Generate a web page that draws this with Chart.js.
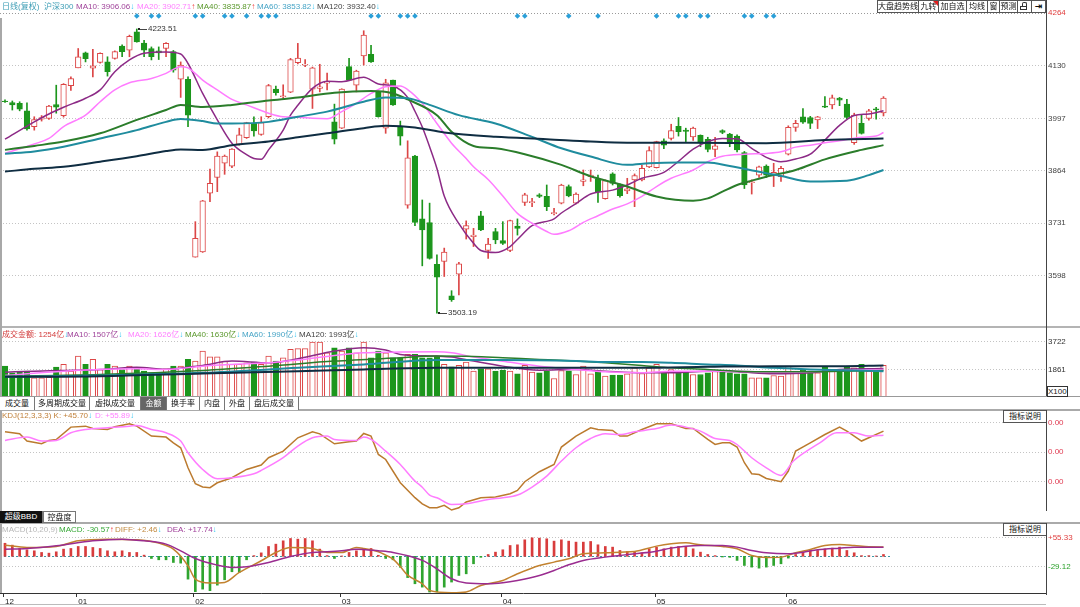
<!DOCTYPE html>
<html lang="zh-CN">
<head>
<meta charset="utf-8">
<title>沪深300 日线</title>
<script src="https://cdn.jsdelivr.net/npm/chart.js@4.4.1/dist/chart.umd.min.js"></script>
<style>
html,body{margin:0;padding:0;background:#fff;}
#root{position:relative;width:1080px;height:607px;overflow:hidden;background:#fff;font-family:"Liberation Sans",Arial,"Noto Sans CJK SC",sans-serif;}
canvas{position:absolute;left:0;}
.t{position:absolute;font-size:8px;line-height:10px;white-space:nowrap;}
.dn{color:#2ec4f2;}
.up{color:#f03a3a;}
.ln{position:absolute;}
.tab{position:absolute;height:13px;line-height:13px;font-size:8px;text-align:center;border-right:1px solid #777;box-sizing:border-box;color:#111;background:#fff;white-space:nowrap;}
.sel{background:#666;color:#fff;}
.sel2{background:#111;color:#fff;}
.btn{position:absolute;top:0;height:13px;line-height:11px;font-size:8px;text-align:center;border:1px solid #555;box-sizing:border-box;background:#fff;color:#111;white-space:nowrap;}
.zb{position:absolute;left:1003px;width:43px;height:13px;line-height:11px;font-size:8px;text-align:center;border:1px solid #555;border-right:none;box-sizing:border-box;background:#fff;color:#111;}
</style>
</head>
<body>
<div id="root">
  <canvas id="cPrice" width="1080" height="327" style="top:0"></canvas>
  <canvas id="cVol" width="1080" height="69" style="top:328px"></canvas>
  <canvas id="cKdj" width="1080" height="101" style="top:410px"></canvas>
  <canvas id="cMacd" width="1080" height="84" style="top:523px"></canvas>

  <!-- separators -->
  <div class="ln" style="left:0;top:326px;width:1080px;height:2px;background:#b4b4b4"></div>
  <div class="ln" style="left:0;top:396px;width:1080px;height:1px;background:#999"></div>
  <div class="ln" style="left:0;top:409px;width:1080px;height:2px;background:#aaa"></div>
  <div class="ln" style="left:0;top:522px;width:1080px;height:2px;background:#aaa"></div>
  <div class="ln" style="left:0;top:604px;width:1046px;height:1px;background:#bbb"></div>
  <div class="ln" style="left:0;top:18px;width:2px;height:575px;background:#a8a8a8"></div>
  <div class="ln" style="left:1046px;top:0;width:1px;height:396px;background:#444"></div>
  <div class="ln" style="left:1046px;top:410px;width:1px;height:101px;background:#444"></div>
  <div class="ln" style="left:1046px;top:523px;width:1px;height:72px;background:#444"></div>

  <!-- price header -->
  <div class="t" style="left:2px;top:2px;color:#3d9db5">日线(复权)</div>
  <div class="t" style="left:44px;top:2px;color:#3d9db5">沪深300</div>
  <div class="t" style="left:76px;top:2px"><span style="color:#a0449a">MA10: 3906.06</span><span class="dn">↓</span></div>
  <div class="t" style="left:137px;top:2px"><span style="color:#ff80ff">MA20: 3902.71</span><span class="up">↑</span></div>
  <div class="t" style="left:197px;top:2px"><span style="color:#5a982c">MA40: 3835.87</span><span class="up">↑</span></div>
  <div class="t" style="left:257px;top:2px"><span style="color:#46a4c6">MA60: 3853.82</span><span class="dn">↓</span></div>
  <div class="t" style="left:317px;top:2px"><span style="color:#444">MA120: 3932.40</span><span class="dn">↓</span></div>

  <!-- top right buttons -->
  <div class="btn" style="left:877px;width:42px">大盘趋势线</div>
  <div class="btn" style="left:918px;width:21px">九转</div>
  <div class="ln" style="left:933px;top:1px;width:0;height:0;border-top:5px solid #e02020;border-left:5px solid transparent"></div>
  <div class="btn" style="left:938px;width:29px">加自选</div>
  <div class="btn" style="left:966px;width:22px">均线</div>
  <div class="btn" style="left:987px;width:13px">窗</div>
  <div class="btn" style="left:999px;width:19px">预测</div>
  <div class="btn" style="left:1017px;width:15px">
    <div style="position:absolute;left:4px;top:1px;width:3px;height:3px;border:1px solid #333;border-bottom:none;border-radius:2px 2px 0 0"></div>
    <div style="position:absolute;left:2px;top:5px;width:7px;height:4px;border:1px solid #333;box-sizing:border-box"></div>
  </div>
  <div class="btn" style="left:1031px;width:15px;font-family:'DejaVu Sans';font-weight:bold;font-size:9px">⇥</div>

  <!-- volume header -->
  <div class="t" style="left:2px;top:330px"><span style="color:#d23c3c">成交金额: 1254亿</span><span class="dn">↓</span></div>
  <div class="t" style="left:67px;top:330px"><span style="color:#a0449a">MA10: 1507亿</span><span class="dn">↓</span></div>
  <div class="t" style="left:128px;top:330px"><span style="color:#ff80ff">MA20: 1626亿</span><span class="dn">↓</span></div>
  <div class="t" style="left:185px;top:330px"><span style="color:#5a982c">MA40: 1630亿</span><span class="dn">↓</span></div>
  <div class="t" style="left:242px;top:330px"><span style="color:#46a4c6">MA60: 1990亿</span><span class="dn">↓</span></div>
  <div class="t" style="left:299px;top:330px"><span style="color:#444">MA120: 1993亿</span><span class="dn">↓</span></div>
  <div style="position:absolute;left:1047px;top:386px;width:19px;height:9px;border:1px solid #333;font-size:8px;line-height:9px;color:#222;background:#fff">X100</div>

  <!-- volume tabs -->
  <div class="tab" style="left:0;top:397px;width:35px">成交量</div>
  <div class="tab" style="left:35px;top:397px;width:55px">多周期成交量</div>
  <div class="tab" style="left:90px;top:397px;width:51px">虚拟成交量</div>
  <div class="tab sel" style="left:141px;top:397px;width:26px">金额</div>
  <div class="tab" style="left:167px;top:397px;width:33px">换手率</div>
  <div class="tab" style="left:200px;top:397px;width:25px">内盘</div>
  <div class="tab" style="left:225px;top:397px;width:25px">外盘</div>
  <div class="tab" style="left:250px;top:397px;width:49px">盘后成交量</div>

  <!-- KDJ header -->
  <div class="t" style="left:2px;top:411px"><span style="color:#c0803a">KDJ(12,3,3,3) K: +45.70</span><span class="dn">↓</span></div>
  <div class="t" style="left:95px;top:411px"><span style="color:#ff80ff">D: +55.89</span><span class="dn">↓</span></div>
  <div class="zb" style="top:410px">指标说明</div>

  <!-- MACD tabs & header -->
  <div class="tab sel2" style="left:0;top:511px;width:43px;height:12px;line-height:12px">超级BBD</div>
  <div class="tab" style="left:43px;top:511px;width:33px;height:12px;line-height:12px;border:1px solid #777">控盘度</div>
  <div class="t" style="left:2px;top:525px"><span style="color:#b8b8b8">MACD(10,20,9)</span></div>
  <div class="t" style="left:59px;top:525px"><span style="color:#36a836">MACD: -30.57</span><span class="up">↑</span></div>
  <div class="t" style="left:115px;top:525px"><span style="color:#c08a40">DIFF: +2.46</span><span class="dn">↓</span></div>
  <div class="t" style="left:167px;top:525px"><span style="color:#a0409a">DEA: +17.74</span><span class="dn">↓</span></div>
  <div class="zb" style="top:523px">指标说明</div>
</div>

<script>
// ---------------- data ----------------
const DATES = ['12/18','12/19','12/20','12/23','12/24','12/25','12/26','12/27','12/30','12/31',
'01/02','01/03','01/06','01/07','01/08','01/09','01/10','01/13','01/14','01/15','01/16','01/17','01/20','01/21','01/22','01/23',
'02/03','02/04','02/05','02/06','02/07','02/10','02/11','02/12','02/13','02/14','02/17','02/18','02/19','02/20','02/21','02/24','02/25','02/26','02/27','02/28',
'03/02','03/03','03/04','03/05','03/06','03/09','03/10','03/11','03/12','03/13','03/16','03/17','03/18','03/19','03/20','03/23','03/24','03/25','03/26','03/27','03/30','03/31',
'04/01','04/02','04/03','04/07','04/08','04/09','04/10','04/13','04/14','04/15','04/16','04/17','04/20','04/21','04/22','04/23','04/24','04/27','04/28','04/29','04/30',
'05/06','05/07','05/08','05/11','05/12','05/13','05/14','05/15','05/18','05/19','05/20','05/21','05/22','05/25','05/26','05/27','05/28','05/29',
'06/01','06/02','06/03','06/04','06/05','06/08','06/09','06/10','06/11','06/12','06/15','06/16','06/17','06/18'];

const OPEN = [4041,4037,4035,4016,3976,3995,3997,4032,4004,4080,
4125,4163,4124,4139,4140,4149,4180,4170,4216,4188,
4174,4168,4174,4166,4096,4096,3645,3658,3807,3847,
3883,3876,3931,3948,3984,3956,4001,4071,4052,4063,
4138,4132,4071,4073,4086,3988,3972,4128,4081,4155,
4159,4064,3972,4094,3976,3777,3901,3742,3733,3627,
3634,3547,3602,3716,3697,3750,3662,3710,3687,3662,
3724,3784,3783,3803,3799,3755,3782,3824,3782,3837,
3849,3843,3793,3856,3830,3813,3841,3841,3874,3872,
3940,3946,3977,3967,3950,3954,3944,3918,3966,3957,
3952,3910,3834,3853,3876,3854,3849,3906,3974,4001,
3999,3993,4028,4031,4048,4033,3935,3984,3997,4021,
4011];
const HIGH = [4044,4041,4039,4036,4001,4004,4030,4081,4085,4102,
4174,4165,4172,4163,4153,4168,4183,4208,4223.51,4195,
4178,4178,4189,4169,4140,4102,3735,3789,3868,3912,
3904,3920,3972,3987,4001,4001,4083,4079,4082,4149,
4187,4146,4127,4134,4112,4033,4072,4149,4119,4219,
4182,4066,4096,4094,3990,3940,3903,3790,3782,3651,
3668,3560,3632,3737,3718,3761,3693,3718,3735,3739,
3742,3807,3794,3806,3828,3769,3830,3828,3808,3866,
3866,3853,3841,3859,3831,3845,3856,3878,3925,3939,
3945,3982,3999,3972,3975,3955,3949,3949,3968,3959,
3955,3913,3841,3876,3879,3883,3875,3978,3992,4022,
4002,4002,4052,4056,4050,4045,4010,4005,4020,4025,
4052];
const LOW = [4037,4018,4016,3967,3967,3990,3994,4010,4000,4068,
4125,4140,4102,4137,4104,4147,4153,4153,4190,4153,
4145,4146,4153,4114,4050,3976,3645,3657,3786,3811,
3855,3872,3929,3946,3952,3954,3998,4056,4048,4062,
4135,4128,4022,4064,4069,3932,3971,4093,4064,4132,
4139,4000,3959,4030,3929,3769,3725,3623,3640,3503.19,
3596,3533,3549,3691,3672,3712,3642,3679,3677,3659,
3701,3776,3773,3796,3763,3752,3780,3798,3780,3826,
3837,3784,3792,3828,3797,3806,3773,3838,3872,3871,
3920,3942,3952,3938,3941,3925,3912,3900,3958,3925,
3912,3819,3805,3847,3847,3824,3837,3904,3964,3984,
3971,3971,4024,4021,4029,3996,3931,3957,3992,3995,
4003];
const CLOSE = [4039,4031,4020,3970,3994,3999,4028,4025,4083,4098,
4153,4148,4130,4162,4115,4166,4166,4205,4191,4170,
4153,4163,4187,4119,4132,4005,3693,3788,3832,3901,
3901,3919,3955,3986,3965,3986,4080,4062,4054,4146,
4150,4134,4125,4077,4090,3944,4071,4094,4117,4208,
4140,4001,4087,4031,3952,3897,3733,3714,3642,3594,
3658,3537,3628,3725,3701,3714,3678,3689,3680,3738,
3718,3803,3786,3799,3773,3758,3828,3800,3805,3841,
3853,3811,3839,3832,3801,3818,3852,3870,3915,3938,
3929,3966,3963,3964,3972,3938,3918,3927,3961,3938,
3917,3828,3836,3874,3853,3860,3870,3974,3984,3987,
3984,4001,4025,4049,4043,3999,4005,3959,4016,4018,
4048];

// price moving averages: [dayIndex, value]
const MA10 = [[0,3944],[4,3988],[6,4008],[8,4025],[11,4048],[13,4069],[15,4115],[17,4145],[19,4162],[22,4165],[24,4160],[25,4136],[27,4060],[29,3993],[31,3934],[33,3905],[34,3895],[35,3893],[36,3917],[38,3967],[39,4005],[40,4030],[42,4073],[44,4091],[46,4090],[49,4101],[51,4084],[53,4079],[55,4050],[56,4015],[57,3975],[58,3925],[59,3870],[60,3800],[62,3730],[64,3680],[65,3662],[67,3657],[69,3672],[70,3690],[72,3725],[75,3742],[76,3757],[78,3781],[80,3805],[83,3815],[85,3828],[87,3845],[90,3860],[92,3888],[94,3919],[96,3938],[98,3946],[100,3945],[102,3921],[104,3898],[106,3887],[108,3894],[110,3906],[112,3942],[114,3979],[116,4004],[118,4008],[120,4016]];
const MA20 = [[0,3908],[4,3932],[6,3946],[8,3976],[11,4005],[13,4039],[15,4069],[17,4087],[20,4098],[22,4111],[24,4128],[25,4125],[27,4094],[29,4069],[31,4045],[33,4031],[36,4010],[38,4001],[40,4000],[42,3997],[44,3996],[46,4014],[48,4035],[50,4060],[52,4077],[54,4079],[55,4070],[57,4035],[59,3984],[61,3934],[63,3895],[64,3874],[66,3842],[68,3800],[70,3756],[72,3731],[74,3710],[75,3703],[77,3712],[79,3733],[81,3750],[83,3767],[85,3780],[87,3799],[89,3824],[91,3845],[94,3866],[96,3887],[98,3901],[101,3906],[104,3908],[106,3912],[108,3924],[110,3929],[112,3935],[114,3940],[117,3949],[119,3952],[120,3961]];
const MA40 = [[0,3917],[4,3927],[8,3938],[13,3959],[18,3993],[22,4018],[24,4031],[27,4026],[31,4031],[36,4042],[40,4050],[45,4062],[50,4066],[53,4060],[55,4045],[59,4005],[61,3963],[64,3927],[67,3921],[71,3906],[76,3879],[80,3850],[85,3824],[89,3799],[94,3788],[96,3794],[98,3811],[100,3828],[102,3839],[104,3849],[108,3866],[112,3893],[117,3917],[120,3929]];
const MA60 = [[0,3907],[4,3913],[8,3925],[13,3946],[18,3967],[22,3988],[24,3995],[27,3990],[29,3984],[31,3984],[36,3988],[40,4001],[44,4014],[49,4039],[52,4050],[55,4048],[58,4031],[62,4005],[67,3984],[72,3950],[76,3921],[80,3900],[85,3879],[88,3883],[92,3885],[96,3885],[99,3876],[104,3858],[106,3851],[110,3837],[115,3839],[118,3853],[120,3866]];
const MA120 = [[0,3862],[4,3869],[8,3874],[13,3887],[18,3901],[22,3914],[24,3918],[27,3917],[31,3929],[36,3938],[40,3949],[44,3959],[49,3972],[52,3978],[56,3974],[60,3961],[67,3950],[74,3944],[80,3938],[85,3935],[94,3935],[104,3934],[112,3942],[120,3946]];

// turnover (axis units)
const VOLUME = [2085,1630,1677,1745,1290,1290,1330,2017,2200,1745,
2764,2200,2539,1860,2200,2085,1860,2085,1928,1745,
1630,1630,1905,2085,2085,2539,2424,3103,2716,2716,
2424,2200,2200,2309,2350,2200,2764,2424,2648,3218,
3262,3262,3714,3714,2988,3327,3103,3327,2988,3714,
2648,3103,2988,2648,2648,2878,2878,2648,2648,2764,
2200,2037,2132,2356,1745,1901,1901,1745,1813,1745,
1562,2132,1677,1630,1745,1249,1790,1745,1521,2085,
1562,1745,1405,1473,1473,1562,1969,1585,1969,2200,
1677,1860,1677,1677,1521,1521,1630,1745,1677,1630,
1562,1562,1290,1290,1290,1450,1405,2085,1745,1860,
1745,1630,2017,1745,1860,2017,1969,2200,1745,1860,
2132];
const VMA10 = [[0,1677],[4,1745],[8,1790],[13,1860],[18,2017],[22,1880],[27,2132],[31,2424],[36,2309],[40,2580],[45,3103],[49,3327],[52,3170],[54,2878],[59,2764],[61,2700],[64,2424],[68,2085],[73,1813],[78,1860],[82,1745],[87,1630],[91,1630],[96,1745],[100,1700],[105,1562],[110,1630],[114,1860],[120,1928]];
const VMA20 = [[0,1453],[8,1745],[18,1905],[22,1860],[27,2085],[31,2200],[36,2309],[40,2492],[45,2810],[49,2988],[54,3034],[59,3050],[61,2988],[64,2700],[68,2420],[73,2080],[78,1860],[82,1700],[87,1640],[91,1745],[96,1745],[100,1745],[105,1677],[110,1700],[114,1790],[120,1860]];
const VMA40 = [[0,1405],[13,1521],[27,1790],[36,2085],[45,2424],[54,2648],[59,2764],[64,2740],[68,2648],[73,2539],[78,2424],[82,2309],[87,2132],[91,1969],[96,1860],[100,1745],[105,1700],[110,1700],[114,1745],[120,1790]];
const VMA60 = [[0,1360],[13,1450],[27,1630],[40,1969],[49,2200],[59,2492],[68,2492],[78,2424],[82,2356],[87,2356],[91,2309],[96,2200],[100,2132],[105,1969],[110,1860],[114,1810],[120,1745]];
const VMA120 = [[0,1360],[13,1400],[27,1585],[40,1745],[49,1860],[59,1969],[68,1969],[78,1969],[87,1969],[96,2037],[105,2085],[114,2085],[120,2132]];

// KDJ
const KDJ_K = [[0,89.8],[2,87.5],[3,79.3],[5,76.2],[6,80],[7,81],[9,95.1],[11,96.2],[12,93.5],[14,92.4],[15,95.5],[17,98.9],[18,96.2],[20,84.9],[22,83.8],[23,77.3],[24,71.7],[25,49],[26,30.9],[27,27.2],[28,26.4],[29,32],[31,37.7],[33,47.1],[35,52.1],[36,60.4],[38,67.9],[40,83],[42,89.8],[43,87.5],[45,76.2],[47,78.5],[48,79.3],[49,87.9],[50,84.9],[51,64.1],[52,58.4],[54,32],[56,15.1],[57,8],[58,3.7],[59,3.7],[60,6.4],[61,1.1],[62,3.7],[63,10.2],[65,15.1],[67,15.9],[69,19.6],[70,23.3],[71,33.2],[73,44.5],[75,52.8],[76,72.5],[78,84.9],[80,94.3],[81,92.4],[83,91.3],[84,84.9],[85,84.9],[87,92.4],[89,98.9],[91,98.9],[93,93.5],[94,93.5],[96,81.1],[97,75.4],[98,77.3],[99,77.3],[100,72.5],[101,54.7],[102,42.2],[103,41.4],[104,36.9],[106,33.2],[107,45.3],[108,67.9],[110,77.3],[112,86.7],[114,95.1],[115,90.6],[117,79.3],[118,83],[120,90.6]];
const KDJ_D = [[0,80],[3,83.8],[5,79.3],[7,80],[9,88.7],[11,92.4],[14,94.3],[17,96.2],[18,97],[20,92.4],[22,88.7],[24,79.3],[25,66],[27,47.1],[29,36.6],[31,37.7],[34,42.2],[35,46],[38,60.4],[40,73.6],[42,83],[44,84.9],[45,81.1],[48,80],[49,83.8],[50,81.1],[52,67.9],[54,52.8],[56,34],[57,27],[58,18],[59,15.1],[61,7.5],[63,8.2],[66,13.1],[68,15.1],[70,18.1],[72,27.2],[74,39.6],[76,56.6],[78,71.7],[80,82.2],[82,87.5],[84,86.7],[86,89.8],[89,93.5],[91,97.4],[93,95.1],[95,90.6],[97,82.2],[99,80],[100,75.4],[102,60.4],[104,49],[106,40.3],[107.7,56.6],[109.5,67.9],[111.3,77.3],[113.6,88.7],[116,88.7],[118,84.9],[120,86]];

// MACD
const MACD_HIST = [38,32.5,22.8,19,16,11.2,9.2,13.1,20.9,22.8,
28.6,28.6,25.7,22.8,16,13.1,16,11.2,11.2,3.4,
-6.3,-10.2,-10.2,-18,-19.9,-66.5,-103,-95.6,-100,-84,
-68.4,-45,-47,-10.2,2,10,28.6,35.4,45.1,51.9,
50,51.9,45.1,20.9,2,-6.3,1,11.2,16,22.8,
22.8,3,-6.3,-10.2,-32,-62,-80,-89.8,-104,-104,
-89.8,-75,-55.8,-51,-21.8,-3,5.3,12.1,19,31.5,
33.5,48,53.9,52.9,51,44.2,48,44.2,41.3,41.3,
43.2,33.5,28.6,26.7,17,14,12.1,10.2,21.8,26.7,
21.8,26.7,28.6,28.6,21.8,12.1,5.3,2,-2,-3,
-12,-26.7,-31.5,-34.5,-31.5,-26.7,-21.8,-5.3,5.3,12.1,
17,17,21.8,23.8,26.7,17,10.2,2,2,1,
5.3];
const DIFF = [[0,32.5],[3,25.7],[7,28.6],[10,45],[14,50],[18,48],[21,38.3],[23,20.9],[25,-27.7],[26,-66.5],[28,-78],[30,-76],[32,-47],[35,-13],[37,11.2],[39,25.7],[42,22.8],[43,16],[44,11.2],[46,11.2],[48,25.7],[49,22.8],[51,13.1],[52,3.4],[53,-8.3],[54,-30],[55,-55],[57,-80],[58,-99.5],[61,-106],[63,-104],[65,-85],[68,-70.4],[70,-51],[73,-26.7],[75,-17],[77,-7.3],[79,7.3],[82,10.2],[84,12.1],[86,14],[89,29.6],[91,36.4],[93,39.3],[95,33.5],[98,28.6],[100,21.8],[102,2.4],[104,-3.4],[106,-2.4],[108,10.2],[110,19.9],[112,31.5],[114,34.5],[116,31.5],[118,27.5],[120,27]];
const DEA = [[0,20.9],[3,22.8],[7,30.6],[12,45],[16,50],[19,45],[22,35.4],[24,16],[26,-6.3],[29,-25.7],[31,-32.5],[33,-30.6],[36,-18],[39,-0.5],[42,11.2],[44,13.1],[46,16],[48,20.9],[51,16],[53,11.2],[57,-12],[59,-36.4],[61,-65.5],[63,-78],[66,-80],[68,-77],[70,-70.4],[73,-55.8],[75,-41.3],[77,-24.8],[79,-12],[82,-2.4],[84,2.4],[86,7.3],[89,15],[91,23.8],[93,29.6],[95,31.5],[98,31.5],[100,26.7],[102,17],[104,10.2],[107,7.3],[109,12.1],[111,18.9],[114,23.8],[116,26.7],[120,26.7]];

// signal markers (day indices of the blue diamonds)
const SIGNALS = [18,20,21,26,27,30,31,33,35,36,37,50,51,54,55,56,70,71,77,81,89,92,93,95,96,101,102,104,105];

// axis ticks
const PRICE_TICKS = [4264,4130,3997,3864,3731,3598];
const VOL_TICKS = [1861,3722];
const KDJ_TICKS = [0,33.33,66.67,100];
const MACD_TICKS = [55.33,-29.12];

// ---------------- layout / style ----------------
const FONT = '"Liberation Sans", Arial, "Noto Sans CJK SC", sans-serif';
Chart.defaults.font.family = FONT;
Chart.defaults.font.size = 8;
const X_MIN = -0.683, X_MAX = 142.2;
const C = { red:'#dc4646', green:'#1c961c', ma10:'#8c2a86', ma20:'#ff7cff', ma40:'#2b7d2b', ma60:'#1f8c9e', ma120:'#0f2d42',
            k:'#bb7a2e', d:'#ff7cff', diff:'#c2822f', dea:'#9a2c90', grid:'#c4c4c4' };
const up = k => CLOSE[k] >= OPEN[k];
const col = k => up(k) ? C.red : C.green;

const monthIdx = DATES.map((d,k)=> (k===0 || d.slice(0,2)!==DATES[k-1].slice(0,2)) ? k : -1).filter(k=>k>=0);
const monthLab = {}; monthIdx.forEach(k=>{ monthLab[k] = DATES[k].slice(0,2); });

function lineDs(arr, color, w, tension) {
  return { type:'line', data: arr.map(([x,y])=>({x,y})), borderColor: color, borderWidth: w,
    pointRadius:0, pointHoverRadius:0, fill:false,
    cubicInterpolationMode: tension===0 ? 'default' : 'monotone', tension: 0, order:0 };
}
function hiddenX(){ return { type:'linear', min:X_MIN, max:X_MAX, offset:false, display:false, grid:{offset:false} }; }
function yAxis(min, max, ticks, fmt, color, gridColor) {
  return {
    type:'linear', position:'right', min, max,
    afterFit: s => { s.width = 34; s.paddingTop = 0; s.paddingBottom = 0; },
    afterBuildTicks: s => { s.ticks = ticks.map(v=>({value:v})); },
    grid: { color: gridColor || C.grid, drawTicks:false, tickLength:0, lineWidth:1 },
    border: { display:false, dash:[1,2] },
    ticks: { padding:2, color, font:{size:8, family:FONT}, callback: fmt, autoSkip:false }
  };
}
function opts(y, padTop, padBottom, x) {
  return {
    responsive:false, animation:false, events:[],
    layout:{ padding:{top:padTop||0, bottom:padBottom||0, left:0, right:0}, autoPadding:false },
    plugins:{ legend:{display:false}, tooltip:{enabled:false}, title:{display:false} },
    scales:{ x: x || hiddenX(), y }
  };
}

// plugin: diamond signals and extreme-value labels on the price panel
const priceMarks = {
  id:'priceMarks',
  afterDatasetsDraw(chart){
    const {ctx, chartArea, scales:{x, y}} = chart;
    ctx.save();
    ctx.fillStyle = '#2a9fd8';
    SIGNALS.forEach(k=>{
      const px = x.getPixelForValue(k), py = chartArea.top + 3;
      ctx.beginPath(); ctx.moveTo(px, py-2.8); ctx.lineTo(px+2.8, py); ctx.lineTo(px, py+2.8); ctx.lineTo(px-2.8, py); ctx.closePath(); ctx.fill();
    });
    const hi = Math.max(...HIGH), lo = Math.min(...LOW);
    const marks = [[HIGH.indexOf(hi), hi], [LOW.indexOf(lo), lo]];
    ctx.font = '8px ' + FONT; ctx.textBaseline = 'middle'; ctx.textAlign = 'left';
    marks.forEach(([k,v])=>{
      const px = Math.round(x.getPixelForValue(k)) + 1, py = Math.round(y.getPixelForValue(v));
      ctx.fillStyle = '#222'; ctx.fillRect(px, py-1, 2, 2);
      ctx.strokeStyle = '#444'; ctx.lineWidth = 1;
      ctx.beginPath(); ctx.moveTo(px+2, py+0.5); ctx.lineTo(px+9, py+0.5); ctx.stroke();
      ctx.fillStyle = '#333'; ctx.fillText(v.toFixed(2), px+10, py);
    });
    ctx.restore();
  }
};
// plugin: dashed zero line and month tick marks on the MACD panel
const macdDeco = {
  id:'macdDeco',
  beforeDatasetsDraw(chart){
    const {ctx, chartArea, scales:{x, y}} = chart;
    const py = Math.round(y.getPixelForValue(0)) + 0.5;
    ctx.save(); ctx.strokeStyle = '#3a9aa6'; ctx.lineWidth = 1; ctx.setLineDash([2,2]);
    ctx.beginPath(); ctx.moveTo(chartArea.left, py); ctx.lineTo(x.getPixelForValue(DATES.length), py); ctx.stroke();
    ctx.restore();
  },
  afterDraw(chart){
    const {ctx, chartArea, scales:{x}} = chart;
    ctx.save(); ctx.strokeStyle = '#333'; ctx.lineWidth = 1;
    monthIdx.forEach(k=>{
      const px = Math.round(x.getPixelForValue(k) - 2) + 0.5;
      ctx.beginPath(); ctx.moveTo(px, chartArea.bottom); ctx.lineTo(px, chartArea.bottom + 4); ctx.stroke();
    });
    ctx.restore();
  }
};

// ---------------- price panel ----------------
new Chart(document.getElementById('cPrice'), {
  type:'bar',
  data:{ datasets:[
    lineDs(MA120, C.ma120, 2), lineDs(MA60, C.ma60, 2), lineDs(MA40, C.ma40, 2),
    lineDs(MA20, C.ma20, 1.5), lineDs(MA10, C.ma10, 1.5),
    { type:'bar', data: HIGH.map((h,k)=>({x:k, y:[LOW[k], h]})), backgroundColor: c=>col(c.dataIndex),
      barThickness:1, grouped:false, order:3 },
    { type:'bar', data: OPEN.map((o,k)=>({x:k, y:[o, CLOSE[k]]})), backgroundColor: c=> up(c.dataIndex) ? '#ffffff' : C.green,
      borderColor: c=>col(c.dataIndex), borderWidth:1, borderSkipped:false, barThickness:5.6, grouped:false, order:2 }
  ]},
  options: opts(yAxis(3470.5, 4264, PRICE_TICKS, v=>String(v),
      c=> c.tick.value===4264 ? '#e03c3c' : '#444',
      c=> c.tick.value===4264 ? '#9a9a9a' : C.grid), 13, 1),
  plugins:[priceMarks]
});

// ---------------- turnover panel ----------------
new Chart(document.getElementById('cVol'), {
  type:'bar',
  data:{ datasets:[
    lineDs(VMA120, C.ma120, 2), lineDs(VMA60, C.ma60, 2), lineDs(VMA40, C.ma40, 1.5),
    lineDs(VMA20, C.ma20, 1.5), lineDs(VMA10, C.ma10, 1.5),
    { type:'bar', data: VOLUME.map((v,k)=>({x:k, y:v})), backgroundColor: c=> up(c.dataIndex) ? '#ffffff' : C.green,
      borderColor: c=>col(c.dataIndex), borderWidth:1, barThickness:5.6, grouped:false, order:2 }
  ]},
  options: opts(yAxis(0, 4660, VOL_TICKS, v=>String(v), '#333'), 0, 0)
});

// ---------------- KDJ panel ----------------
new Chart(document.getElementById('cKdj'), {
  type:'line',
  data:{ datasets:[ lineDs(KDJ_D, C.d, 1.5), lineDs(KDJ_K, C.k, 1.5, 0) ]},
  options: opts(yAxis(0, 114.5, KDJ_TICKS, v=> v===0 ? '' : '0.00', '#e03a50'), 0, 0)
});

// ---------------- MACD panel ----------------
new Chart(document.getElementById('cMacd'), {
  type:'bar',
  data:{ datasets:[
    lineDs(DEA, C.dea, 1.5), lineDs(DIFF, C.diff, 1.5),
    { type:'bar', data: MACD_HIST.map((v,k)=>({x:k, y:v})), backgroundColor: c=> MACD_HIST[c.dataIndex] >= 0 ? '#d83c3c' : '#2fa52f',
      barThickness:2, grouped:false, order:2 }
  ]},
  options: opts(
    yAxis(-106.9, 97, MACD_TICKS, v=> v>0 ? '+'+v.toFixed(2) : v.toFixed(2), c=> c.tick.value>0 ? '#e04040' : '#2aa02a'),
    0, 0,
    { type:'linear', min:X_MIN, max:X_MAX, offset:false, display:true,
      afterFit: s => { s.height = 14; s.paddingLeft = 0; s.paddingRight = 0; },
      afterBuildTicks: s => { s.ticks = monthIdx.map(v=>({value:v})); },
      grid: { display:false, offset:false, drawOnChartArea:false, drawTicks:false },
      border: { display:true, color:'#333' },
      ticks: { align:'start', padding:4, maxRotation:0, autoSkip:false, color:'#222', font:{size:8, family:FONT},
               callback: v => monthLab[v] !== undefined ? monthLab[v] : '' } }
  ),
  plugins:[macdDeco]
});
</script>
</body>
</html>
